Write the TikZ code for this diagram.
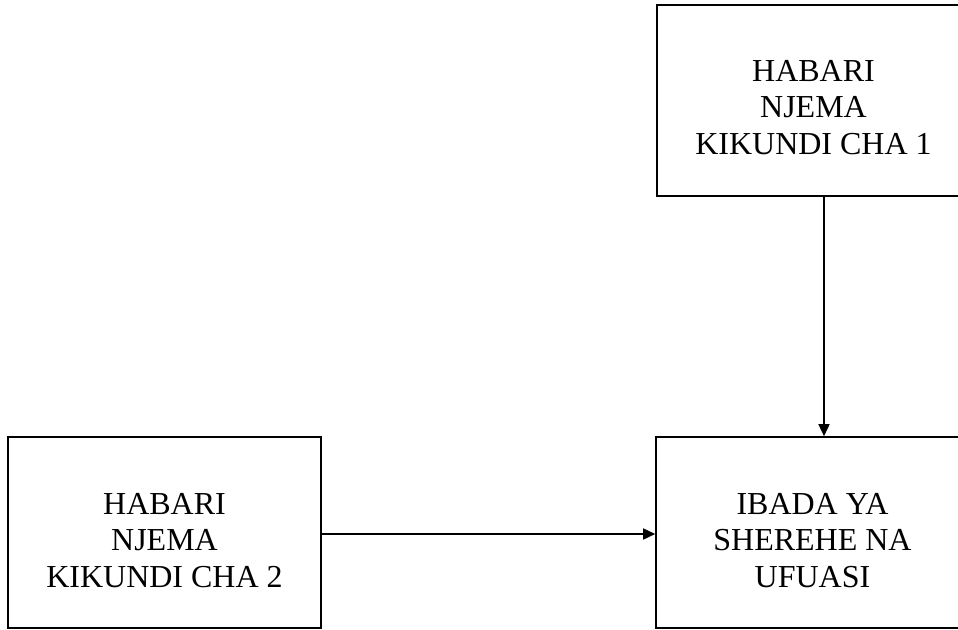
\documentclass[tikz,border=0pt]{standalone}
\usepackage{fontspec}
\setmainfont{Liberation Serif}
\usetikzlibrary{arrows.meta}
\tikzset{
  boxst/.style={draw, line width=1.6pt, minimum width=313pt, minimum height=191pt, inner sep=0pt},
  txt/.style={align=center, font=\fontsize{32}{36.7}\selectfont, inner sep=0pt},
  arr/.style={line width=1.6pt, -{Triangle[length=12pt,width=11pt]}}
}
\begin{document}
\begin{tikzpicture}[x=1pt,y=1pt]
\useasboundingbox (0,0) rectangle (958,629);
\node[boxst] (topbox) at (813.5,528.5) {};
\node[txt] (toptxt) at ([yshift=-7pt]topbox.center) {HABARI\\NJEMA\\KIKUNDI CHA 1};
\node[boxst] (leftbox) at (164.5,96.5) {};
\node[txt] (lefttxt) at ([yshift=-8pt]leftbox.center) {HABARI\\NJEMA\\KIKUNDI CHA 2};
\node[boxst] (rightbox) at (812.5,96.5) {};
\node[txt] (righttxt) at ([yshift=-8pt]rightbox.center) {IBADA YA\\SHEREHE NA\\UFUASI};
\draw[arr] ([xshift=10.5pt]topbox.south) -- ([xshift=11.5pt]rightbox.north);
\draw[arr] ([yshift=-1.5pt]leftbox.east) -- ([yshift=-1.5pt]rightbox.west);
\end{tikzpicture}
\end{document}
